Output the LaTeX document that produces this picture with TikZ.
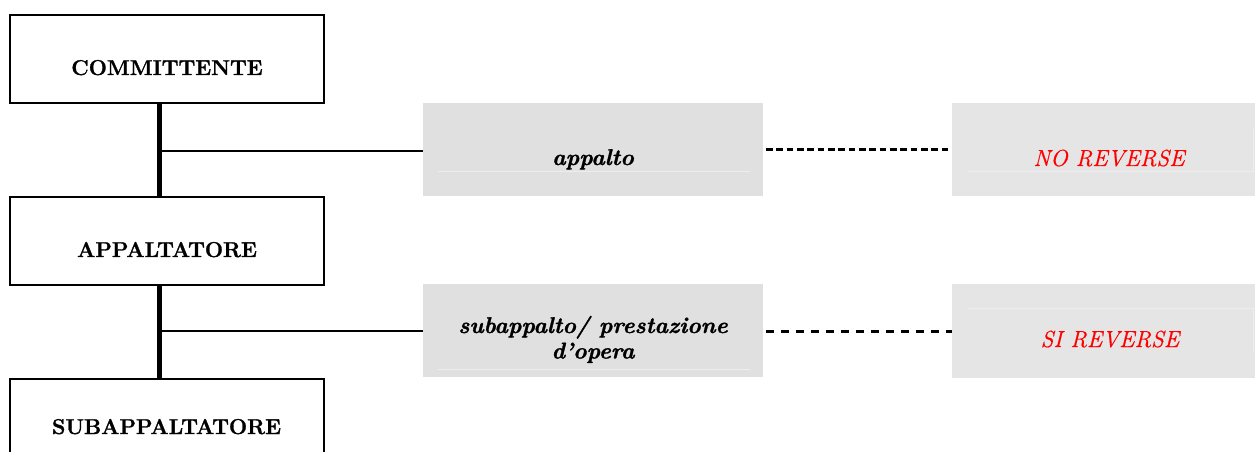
\documentclass[tikz,border=0pt]{standalone}
\usepackage{fontspec}
\setmainfont{Latin Modern Roman}[BoldFeatures={FakeBold=1.3},BoldItalicFeatures={FakeBold=1.3},ItalicFeatures={FakeBold=0.6}]
\begin{document}
\begin{tikzpicture}[x=0.75pt,y=-0.75pt,
  partybox/.style={draw=black,line width=1.5pt,fill=white,inner sep=0pt,minimum width=235.5pt,minimum height=66pt},
  graybox/.style={fill=gray1,inner sep=0pt,minimum width=255pt,minimum height=69.75pt},
  resbox/.style={fill=gray2,inner sep=0pt,minimum width=227.25pt,minimum height=69.75pt},
  partytext/.style={anchor=base,font=\fontsize{16.1}{19}\selectfont\bfseries},
  reltext/.style={anchor=base,font=\fontsize{17.1}{20}\selectfont\bfseries\itshape,align=center},
  restext/.style={anchor=base,text=red,font=\fontsize{17.4}{20}\selectfont\itshape},
  trunk/.style={line width=3.75pt},
  branch/.style={line width=1.5pt},
  faint/.style={draw=gray3,line width=0.75pt}
]
\definecolor{gray1}{HTML}{E0E0E0}
\definecolor{gray2}{HTML}{E5E5E5}
\definecolor{gray3}{HTML}{EDEDED}
\useasboundingbox (0,0) rectangle (1256,452);
\clip (0,0) rectangle (1256,452);
% party boxes
\node[partybox] (comm) at (167,59) {};
\node[partybox] (appa) at (167,241) {};
\node[partybox] (suba) at (167,423) {};
\node[partytext] (lcomm) at (167,75) {COMMITTENTE};
\node[partytext] (lappa) at (167,257) {APPALTATORE};
\node[partytext] (lsuba) at (166.5,434) {SUBAPPALTATORE};
% relation boxes
\node[graybox] (rel1) at (593,149.5) {};
\node[graybox] (rel2) at (593,330.5) {};
\node[resbox] (res1) at (1103.5,149.5) {};
\node[resbox] (res2) at (1103.5,331) {};
% faint cell lines
\draw[faint] (438,172) -- (750,172);
\draw[faint] (438,369) -- (750,369);
\draw[faint] (967,172) -- (1253,172) -- (1253,127);
\draw[faint] (967,308) -- (1253,308) -- (1253,353);
% texts
\node[reltext] (lrel1) at (593,165) {appalto};
\node[reltext] (lrel2a) at (593,333) {subappalto/ prestazione};
\node[reltext] (lrel2b) at (593,358.5) {d’opera};
\node[restext] (lres1) at (1109,166) {NO REVERSE};
\node[restext] (lres2) at (1110,347) {SI REVERSE};
% trunk lines
\coordinate (j1) at (159,151);
\coordinate (j2) at (159,331);
\draw[trunk] (comm.south -| j1) -- (appa.north -| j1);
\draw[trunk] (appa.south -| j2) -- (suba.north -| j2);
\draw[branch] (j1) -- (j1 -| rel1.west);
\draw[branch] (j2) -- (j2 -| rel2.west);
% dashed connectors
\coordinate (d1) at (766,150);
\coordinate (d2) at (766,331);
\draw[line width=2.25pt,dash pattern=on 5pt off 2.75pt] (d1) -- (d1 -| res1.west);
\draw[line width=2.25pt,dash pattern=on 6pt off 5.25pt] (d2) -- (d2 -| res2.west);
\end{tikzpicture}
\end{document}
